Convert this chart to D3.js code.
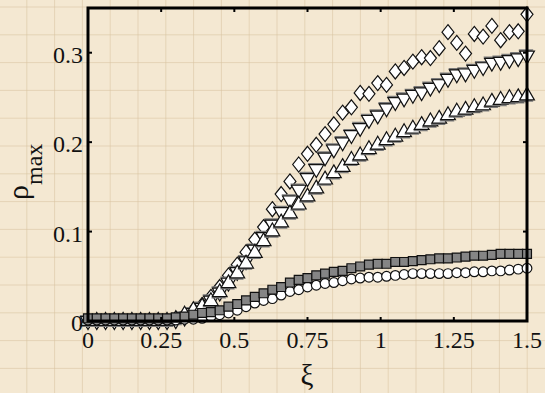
<!DOCTYPE html>
<html>
<head>
<meta charset="utf-8">
<script src="https://cdn.jsdelivr.net/npm/d3@7"></script>
<style>
  html, body { margin: 0; padding: 0; background: #f4e8d2; }
  svg { display: block; }
  text { font-family: "Liberation Serif", "Times New Roman", serif; fill: #111; }
</style>
</head>
<body>
<svg width="545" height="393"></svg>
<script>
// xi grid (step 0.03)
var xi = [0, 0.03, 0.06, 0.09, 0.12, 0.15, 0.18, 0.21, 0.24, 0.27,
          0.30, 0.33, 0.36, 0.39, 0.42, 0.45, 0.48, 0.51, 0.54, 0.57,
          0.60, 0.63, 0.66, 0.69, 0.72, 0.75, 0.78, 0.81, 0.84, 0.87,
          0.90, 0.93, 0.96, 0.99, 1.02, 1.05, 1.08, 1.11, 1.14, 1.17,
          1.20, 1.23, 1.26, 1.29, 1.32, 1.35, 1.38, 1.41, 1.44, 1.47, 1.50];

var diamonds = [0, 0, 0, 0, 0, 0, 0, 0, 0, 0,
    0.002, 0.006, 0.012, 0.018, 0.027, 0.038, 0.051, 0.063, 0.077, 0.091,
    0.105, 0.125, 0.142, 0.156, 0.175, 0.187, 0.197, 0.209, 0.220, 0.233,
    0.239, 0.255, 0.254, 0.266, 0.264, 0.279, 0.283, 0.290, 0.295, 0.294,
    0.305, 0.323, 0.311, 0.299, 0.321, 0.318, 0.330, 0.314, 0.323, 0.324, 0.343];

var downTri = [0, 0, 0, 0, 0, 0, 0, 0, 0, 0,
    0.001, 0.004, 0.009, 0.015, 0.023, 0.032, 0.043, 0.055, 0.067, 0.080,
    0.094, 0.108, 0.122, 0.135, 0.147, 0.160, 0.170, 0.183, 0.192, 0.200,
    0.208, 0.216, 0.225, 0.230, 0.238, 0.245, 0.249, 0.253, 0.256, 0.261,
    0.265, 0.271, 0.276, 0.277, 0.281, 0.284, 0.289, 0.290, 0.292, 0.294, 0.297];

var upTri = [0, 0, 0, 0, 0, 0, 0, 0, 0, 0,
    0.002, 0.007, 0.012, 0.016, 0.022, 0.032, 0.042, 0.053, 0.064, 0.076,
    0.089, 0.100, 0.110, 0.120, 0.130, 0.139, 0.148, 0.158, 0.165, 0.172,
    0.180, 0.185, 0.192, 0.197, 0.202, 0.206, 0.211, 0.215, 0.219, 0.223,
    0.226, 0.230, 0.234, 0.236, 0.239, 0.241, 0.245, 0.247, 0.249, 0.250, 0.252];

var circles = [0.001, 0.001, 0.001, 0.001, 0.001, 0.001, 0.001, 0.001, 0.001, 0.001,
    0.001, 0.002, 0.002, 0.003, 0.005, 0.007, 0.009, 0.012, 0.016, 0.020,
    0.023, 0.025, 0.029, 0.033, 0.035, 0.038, 0.040, 0.042, 0.043, 0.045,
    0.047, 0.048, 0.049, 0.049, 0.050, 0.051, 0.052, 0.053, 0.053, 0.053,
    0.053, 0.053, 0.054, 0.054, 0.055, 0.055, 0.056, 0.056, 0.057, 0.058, 0.059];

var squares = [0.003, 0.003, 0.003, 0.003, 0.003, 0.003, 0.003, 0.003, 0.003, 0.003,
    0.004, 0.005, 0.007, 0.009, 0.010, 0.012, 0.016, 0.019, 0.023, 0.027,
    0.031, 0.035, 0.038, 0.043, 0.046, 0.048, 0.051, 0.053, 0.055, 0.056,
    0.059, 0.061, 0.063, 0.064, 0.064, 0.066, 0.066, 0.067, 0.068, 0.069,
    0.070, 0.070, 0.071, 0.072, 0.073, 0.073, 0.074, 0.075, 0.075, 0.075, 0.075];

var xTicks = [0, 0.25, 0.5, 0.75, 1, 1.25, 1.5];
var yTicks = [0, 0.1, 0.2, 0.3];

var svg = d3.select("svg"),
    width = +svg.attr("width"),
    height = +svg.attr("height");

var x = d3.scaleLinear().domain([0, 1.5]).range([88, 527]);
var y = d3.scaleLinear().domain([0, 0.35]).range([321, 8]);

// paper background with faint grid
svg.append("rect").attr("width", width).attr("height", height).attr("fill", "#f4e8d2");
var grid = svg.append("g").attr("stroke", "#d8c3a0").attr("stroke-opacity", 0.55).attr("stroke-width", 1);
grid.selectAll(".gv").data(d3.range(-1, width, 27.8)).enter().append("line")
    .attr("x1", function(d) { return d; }).attr("x2", function(d) { return d; })
    .attr("y1", 0).attr("y2", height);
grid.selectAll(".gh").data(d3.range(7, height, 27.8)).enter().append("line")
    .attr("y1", function(d) { return d; }).attr("y2", function(d) { return d; })
    .attr("x1", 0).attr("x2", width);

// tall rhombus marker (12 wide, 15 tall)
var rhombus = {
  draw: function(ctx, size) {
    ctx.moveTo(0, -7.5); ctx.lineTo(6, 0); ctx.lineTo(0, 7.5); ctx.lineTo(-6, 0); ctx.closePath();
  }
};

var plot = svg.append("g");

function drawSeries(vals, type, size, fill, rot, shadow) {
  var sym = d3.symbol().type(type).size(size);
  var pts = xi.map(function(d, i) { return [x(d), y(vals[i])]; });
  var g = plot.append("g");
  pts.forEach(function(p) {
    if (shadow) {
      g.append("path").attr("d", sym())
        .attr("transform", "translate(" + (p[0] + shadow[0]) + "," + (p[1] + shadow[1]) + ") rotate(" + rot + ")")
        .attr("fill", "#7a7a7a");
    }
    g.append("path").attr("d", sym())
      .attr("transform", "translate(" + p[0] + "," + p[1] + ") rotate(" + rot + ")")
      .attr("fill", fill).attr("stroke", "#111").attr("stroke-width", 1.2);
  });
}

drawSeries(diamonds, rhombus, 0, "#fff", 0, null);
drawSeries(downTri, d3.symbolTriangle, 95, "#fff", 180, [-1, -1.8]);
drawSeries(upTri, d3.symbolTriangle, 95, "#fff", 0, [-1, 1.8]);
drawSeries(circles, d3.symbolCircle, 74, "#fff", 0, null);
drawSeries(squares, d3.symbolSquare, 80, "#858585", 0, null);

// frame
var frame = svg.append("g").attr("stroke", "#000").attr("fill", "none");
frame.append("rect").attr("x", 88).attr("y", 8).attr("width", 527 - 88).attr("height", 321 - 8)
    .attr("stroke-width", 3);

// inward ticks on all four sides
xTicks.forEach(function(t) {
  frame.append("line").attr("x1", x(t)).attr("x2", x(t)).attr("y1", 321).attr("y2", 317).attr("stroke-width", 2);
  frame.append("line").attr("x1", x(t)).attr("x2", x(t)).attr("y1", 8).attr("y2", 12).attr("stroke-width", 2);
});
yTicks.forEach(function(t) {
  frame.append("line").attr("y1", y(t)).attr("y2", y(t)).attr("x1", 88).attr("x2", 92).attr("stroke-width", 2);
  frame.append("line").attr("y1", y(t)).attr("y2", y(t)).attr("x1", 527).attr("x2", 523).attr("stroke-width", 2);
});

// tick labels
svg.append("g").selectAll("text").data(xTicks).enter().append("text")
    .attr("x", function(d) { return x(d); }).attr("y", 348)
    .attr("text-anchor", "middle").attr("font-size", 24)
    .text(function(d) { return d; });
svg.append("g").selectAll("text").data(yTicks).enter().append("text")
    .attr("x", 83).attr("y", function(d) { return y(d) + 10; })
    .attr("text-anchor", "end").attr("font-size", 24)
    .text(function(d) { return d; });

// axis titles
svg.append("text").attr("x", 307).attr("y", 385).attr("text-anchor", "middle")
    .attr("font-size", 29).text("ξ");

var yl = svg.append("text").attr("transform", "translate(28,200) rotate(-90)").attr("x", 0).attr("y", 0);
yl.append("tspan").attr("font-size", 30).text("ρ");
yl.append("tspan").attr("font-size", 24).attr("dy", 14).text("max");
</script>
</body>
</html>
